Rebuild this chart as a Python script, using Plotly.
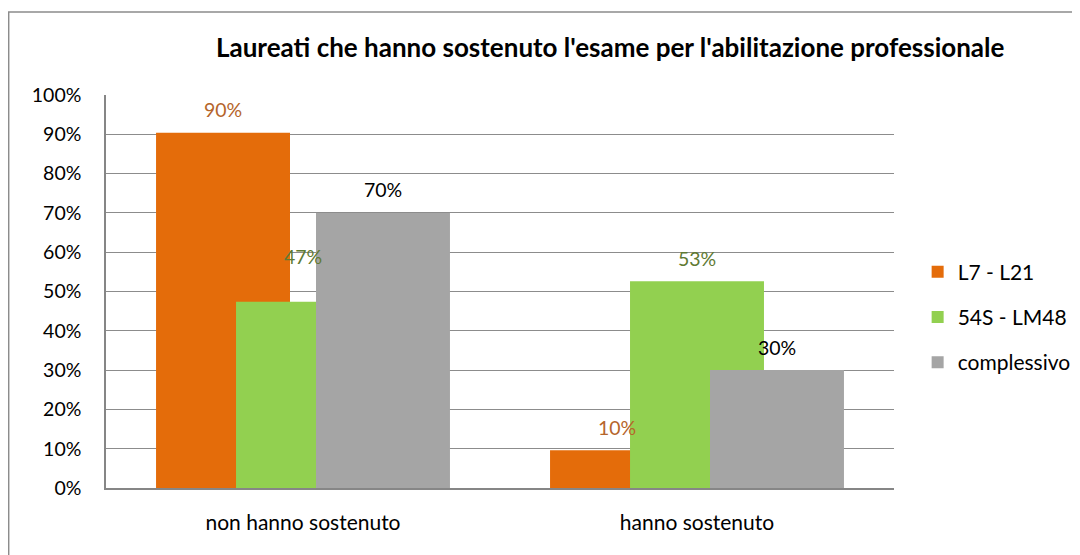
import plotly.graph_objects as go

categories = ['non hanno sostenuto', 'hanno sostenuto']
series_names = ['L7 - L21', '54S - LM48', 'complessivo']
l7_l21 = [0.904, 0.096]
s54_lm48 = [0.474, 0.526]
complessivo = [0.70, 0.30]
y_ticks = [0, 0.1, 0.2, 0.3, 0.4, 0.5, 0.6, 0.7, 0.8, 0.9, 1.0]

values = [l7_l21, s54_lm48, complessivo]
bar_colors = ['#E46C0A', '#92D050', '#A5A5A5']
label_colors = ['#B5652A', '#5F7A33', '#000000']
offsets = [-0.373, -0.17, 0.033]
bar_w = 0.34
font = 'Lato, Carlito, Calibri, sans-serif'

fig = go.Figure()
for name, vals, col, off in zip(series_names, values, bar_colors, offsets):
    fig.add_trace(go.Bar(x=categories, y=vals, name=name, marker_color=col,
                         marker_line_width=0, offset=off, width=bar_w,
                         legendgroup=name))

# data labels (47% label sits higher, as in the original)
annots = []
for s, (vals, lc, off) in enumerate(zip(values, label_colors, offsets)):
    for i, v in enumerate(vals):
        shift = 23
        if s == 1 and i == 0:
            shift = 45
        annots.append(dict(x=i + off + bar_w / 2, y=v, xref='x', yref='y',
                           text='{:.0f}%'.format(v * 100), showarrow=False,
                           yanchor='middle', yshift=shift,
                           font=dict(color=lc, size=19.5, family=font)))

annots.append(dict(x=0.64, y=1.122, xref='paper', yref='paper',
                   text="<b>Laureati che hanno sostenuto l'esame per l'abilitazione professionale</b>",
                   showarrow=False, xanchor='center', yanchor='middle',
                   font=dict(size=26, color='#000000', family=font)))

# the page adds an 8px body margin, so the margins are shifted to compensate
fig.update_layout(
    width=1080, height=555,
    barmode='overlay',
    paper_bgcolor='white', plot_bgcolor='white',
    margin=dict(l=98, r=194, t=87, b=75),
    font=dict(family=font, size=19.5, color='#000000'),
    annotations=annots,
    legend=dict(x=1.03, y=0.435, xanchor='left', yanchor='middle',
                font=dict(size=21), tracegroupgap=15, itemclick=False),
    shapes=[dict(type='rect', xref='paper', yref='paper',
                 x0=-0.1235, x1=1.6, y0=-0.5, y1=1.211,
                 line=dict(color='#8C8C8C', width=1.5))],
)
fig.update_xaxes(type='category', range=[-0.5, 1.5], showgrid=False,
                 showline=True, linecolor='#868686', linewidth=2,
                 tickfont=dict(size=21),
                 ticks='', ticklabelstandoff=15, fixedrange=True)
fig.update_yaxes(range=[0, 1.0], tickvals=y_ticks, tickformat='.0%',
                 showgrid=True, gridcolor='#8C8C8C', gridwidth=1,
                 showline=True, linecolor='#868686', linewidth=1.5,
                 zeroline=False, ticks='', ticklabelstandoff=19, fixedrange=True)

fig.write_html('out.html')
